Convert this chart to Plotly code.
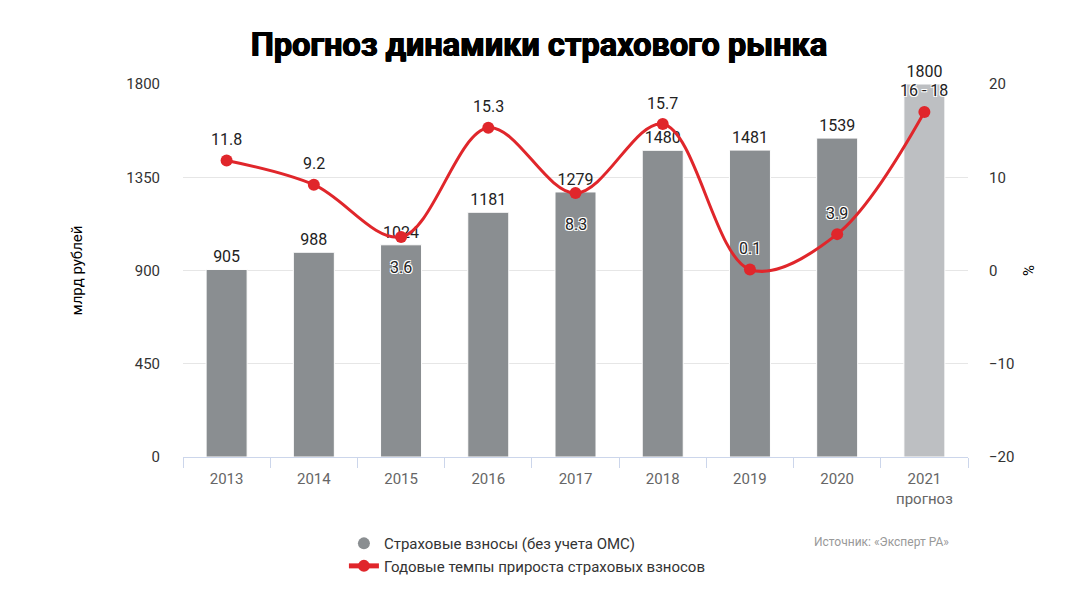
import plotly.graph_objects as go

years = ["2013", "2014", "2015", "2016", "2017", "2018", "2019", "2020", "2021<br>прогноз"]
premiums = [905, 988, 1024, 1181, 1279, 1480, 1481, 1539, 1800]
growth = [11.8, 9.2, 3.6, 15.3, 8.3, 15.7, 0.1, 3.9, 17]
growth_labels = ["11.8", "9.2", "3.6", "15.3", "8.3", "15.7", "0.1", "3.9", "16 - 18"]
label_below = [False, False, True, False, True, False, False, False, False]

idx = list(range(len(years)))
bounds = [i - 0.5 for i in range(len(years) + 1)]

bar_colors = ["#8a8e91"] * 8 + ["#bdbfc2"]
red = "#e0262b"
font = "Roboto, 'Liberation Sans', Arial, sans-serif"

fig = go.Figure()
fig.add_trace(go.Bar(
    x=idx, y=premiums, marker=dict(color=bar_colors, line=dict(color="#ffffff", width=1)),
    width=0.47, text=[str(v) for v in premiums], textposition="outside",
    textfont=dict(size=16, color="#222222", family=font), cliponaxis=False,
    showlegend=False, name="Страховые взносы (без учета ОМС)",
))
fig.add_trace(go.Scatter(
    x=[None], y=[None], mode="markers", marker=dict(color="#8a8e91", size=17, symbol="circle"),
    name="Страховые взносы (без учета ОМС)",
))
fig.add_trace(go.Scatter(
    x=idx, y=growth, yaxis="y2", mode="lines+markers",
    line=dict(color=red, width=3, shape="spline", smoothing=1.0),
    marker=dict(color=red, size=12), cliponaxis=False,
    name="Годовые темпы прироста страховых взносов",
))

for x, y, t, below in zip(idx, growth, growth_labels, label_below):
    fig.add_annotation(
        x=x, y=y, xref="x", yref="y2", text=t, showarrow=False,
        yshift=-31 if below else 21,
        font=dict(size=16, color="#222222", family=font,
                  shadow="1px 1px 0 #fff, -1px -1px 0 #fff, 1px -1px 0 #fff, -1px 1px 0 #fff"),
    )

fig.add_annotation(
    xref="paper", yref="paper", x=0.9785, y=-0.229, xanchor="right", yanchor="middle",
    text="Источник: «Эксперт РА»", showarrow=False,
    font=dict(size=12, color="#999999", family=font),
)

fig.update_layout(
    width=1080, height=608,
    margin=dict(l=175, r=120, t=76, b=159, autoexpand=False),
    paper_bgcolor="#ffffff", plot_bgcolor="#ffffff",
    title=dict(text="<b>Прогноз динамики страхового рынка</b>", x=0.4917, xanchor="center",
               y=0.94, yanchor="middle", xref="container",
               font=dict(size=32.5, color="#000000", family="Roboto, 'Liberation Sans', sans-serif", weight=900,
                         shadow="0.6px 0 0 #000, -0.6px 0 0 #000, 0 0.5px 0 #000")),
    font=dict(family=font),
    xaxis=dict(
        range=[-0.5, len(years) - 0.5], tickmode="array", tickvals=idx, ticktext=years,
        showgrid=False, showline=True, linecolor="#ccd6eb", linewidth=1, ticks="",
        tickfont=dict(size=15, color="#666666"), fixedrange=True, ticklabelstandoff=8,
        minor=dict(tickmode="array", tickvals=bounds, ticks="outside", ticklen=10,
                   tickcolor="#ccd6eb", showgrid=False),
    ),
    yaxis=dict(
        range=[0, 1800], tickvals=[0, 450, 900, 1350, 1800], showgrid=True,
        gridcolor="#e6e6e6", gridwidth=1, zeroline=False, showline=False,
        tickfont=dict(size=15, color="#333333"), ticks="", ticklabelstandoff=22,
        title=dict(text="млрд рублей", font=dict(size=15, color="#000000"), standoff=40),
    ),
    yaxis2=dict(
        range=[-20, 20], tickvals=[-20, -10, 0, 10, 20], overlaying="y", side="right",
        showgrid=False, zeroline=False, showline=False,
        tickfont=dict(size=15, color="#333333"), ticklabelstandoff=20,
        title=dict(text="%", font=dict(size=15, color="#000000"), standoff=10),
    ),
    legend=dict(
        x=0.205, y=-0.188, xanchor="left", yanchor="top", orientation="v",
        font=dict(size=15, color="#333333"), tracegroupgap=0, itemsizing="constant",
        bgcolor="rgba(0,0,0,0)",
    ),
)

fig.write_html("out.html")
